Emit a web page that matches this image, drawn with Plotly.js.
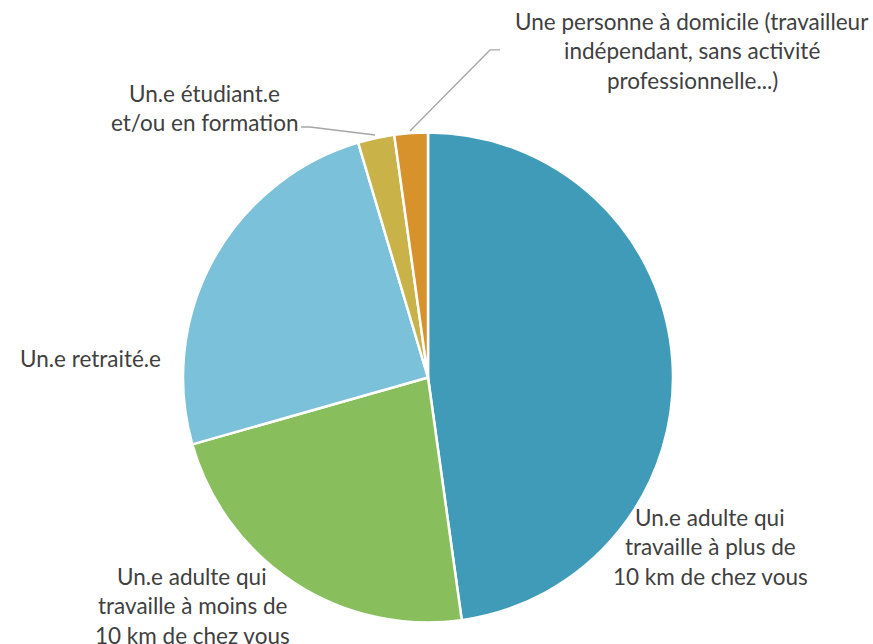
<!DOCTYPE html>
<html>
<head>
<meta charset="utf-8">
<script src="https://cdn.plot.ly/plotly-3.0.1.min.js"></script>
<style>html,body{margin:0;padding:0;background:#fff;}#chart{width:873px;height:644px;}</style>
</head>
<body>
<div id="chart"></div>
<script>
// Data
const categories = [
  "Un.e adulte qui travaille à plus de 10 km de chez vous",
  "Un.e adulte qui travaille à moins de 10 km de chez vous",
  "Un.e retraité.e",
  "Un.e étudiant.e et/ou en formation",
  "Une personne à domicile (travailleur indépendant, sans activité professionnelle...)"
];
const values = [47.8, 22.8, 24.8, 2.4, 2.2];
const colors = ["#409BB8", "#88BE5C", "#7BC1DA", "#C9B348", "#D8922B"];
// Label lines (as displayed)
const labelLines = [
  ["Un.e adulte qui", "travaille à plus de", "10 km de chez vous"],
  ["Un.e adulte qui", "travaille à moins de", "10 km de chez vous"],
  ["Un.e retraité.e"],
  ["Un.e étudiant.e", "et/ou en formation"],
  ["Une personne à domicile (travailleur", "indépendant, sans activité", "professionnelle...)"]
];

const W = 873, H = 644;
// label anchor pixel positions (center x, first-line center y)
const labelPos = [[710, 517], [192, 576], [90, 358], [204, 93], [692, 21]];
const lineGap = 29.5;

const annotations = [];
labelLines.forEach((lines, i) => {
  lines.forEach((t, j) => {
    annotations.push({
      text: t, showarrow: false, xref: 'paper', yref: 'paper',
      x: labelPos[i][0] / W, y: 1 - (labelPos[i][1] + j * lineGap) / H,
      xanchor: 'center', yanchor: 'middle',
      font: {family: 'Lato, "Open Sans", sans-serif', size: 22.5, color: '#404040'}
    });
  });
});

const px = (x, y) => (x / W).toFixed(4) + ',' + (1 - y / H).toFixed(4);
const shapes = [
  {type: 'path', xref: 'paper', yref: 'paper', path: 'M' + px(410, 131) + 'L' + px(490, 50) + 'L' + px(500, 50),
   line: {color: '#A6A6A6', width: 1.3}},
  {type: 'path', xref: 'paper', yref: 'paper', path: 'M' + px(301, 127) + 'L' + px(310, 127) + 'L' + px(375, 135),
   line: {color: '#A6A6A6', width: 1.3}}
];

const trace = {
  type: 'pie',
  labels: categories,
  values: values,
  sort: false,
  direction: 'clockwise',
  rotation: 0,
  textinfo: 'none',
  hoverinfo: 'label+percent',
  marker: {colors: colors, line: {color: '#ffffff', width: 2.5}},
  domain: {x: [183 / W, 673 / W], y: [(H - 622.5) / H, (H - 132.5) / H]}
};

const layout = {
  width: W, height: H,
  margin: {l: 0, r: 0, t: 0, b: 0},
  showlegend: false,
  paper_bgcolor: '#ffffff',
  annotations: annotations,
  shapes: shapes
};

Plotly.newPlot('chart', [trace], layout, {displayModeBar: false, staticPlot: true});
</script>
</body>
</html>
